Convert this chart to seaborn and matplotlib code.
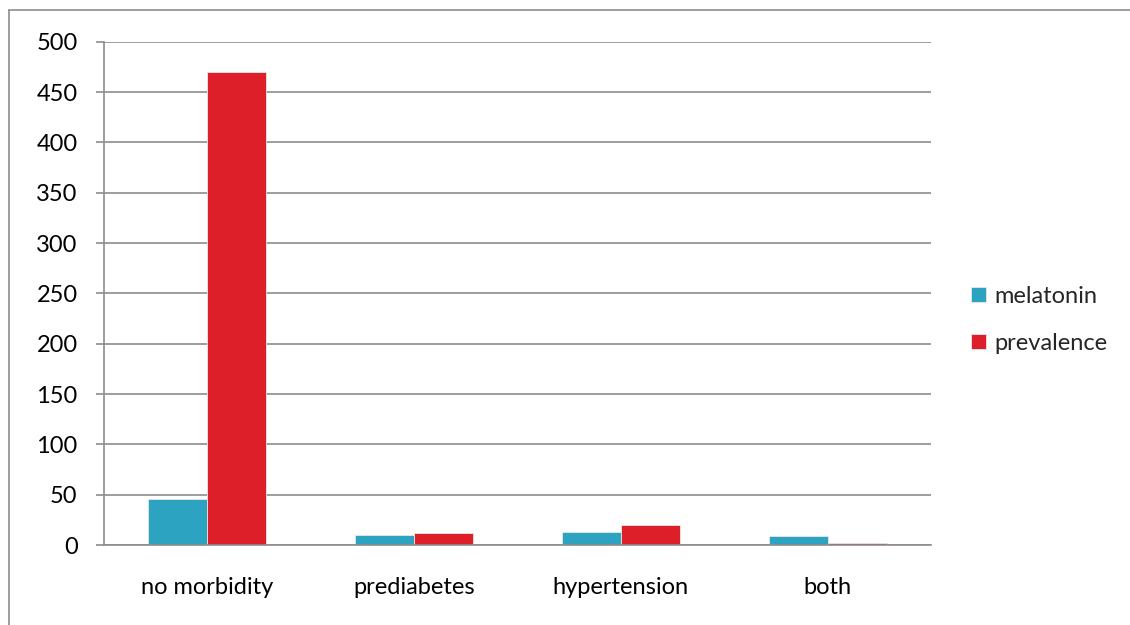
import numpy as np
import pandas as pd
import matplotlib
matplotlib.use("Agg")
import matplotlib.pyplot as plt
from matplotlib.lines import Line2D
import seaborn as sns

categories = ["no morbidity", "prediabetes", "hypertension", "both"]
melatonin = [46, 9.5, 12.5, 8.5]
prevalence = [470, 11.5, 19.5, 2]
series = ["melatonin", "prevalence"]
colors = ["#2CA3C1", "#DC1F28"]

df = pd.DataFrame({
    "category": categories * 2,
    "series": ["melatonin"] * 4 + ["prevalence"] * 4,
    "value": melatonin + prevalence,
})

sns.set_theme(style="white")
plt.rcParams["font.family"] = ["Lato", "DejaVu Sans"]

fig = plt.figure(figsize=(11.3, 6.25), dpi=100)
ax = fig.add_axes([0.092, 0.128, 0.732, 0.805])

sns.barplot(data=df, x="category", y="value", hue="series", order=categories,
            hue_order=series, palette=colors, width=0.57, gap=0,
            saturation=1, ax=ax, legend=True, linewidth=0.6,
            edgecolor="#e8e8e8")

ax.set_ylim(0, 500)
ax.set_xlim(-0.5, 3.5)
ax.set_yticks(np.arange(0, 501, 50))
ax.yaxis.grid(True, color="#8c8c8c", linewidth=1.2)
ax.set_axisbelow(True)
ax.set_xlabel("")
ax.set_ylabel("")

for s in ["top", "right"]:
    ax.spines[s].set_visible(False)
for s in ["left", "bottom"]:
    ax.spines[s].set_color("#8c8c8c")
    ax.spines[s].set_linewidth(1.2)

# category boundary ticks on the x axis
ax.set_xticks(np.arange(-0.5, 3.6, 1), minor=True)
ax.tick_params(axis="x", which="major", length=0, labelsize=17, pad=23,
               labelcolor="#000000")
ax.tick_params(axis="x", which="minor", length=6, width=1.2, color="#8c8c8c",
               direction="out")
ax.tick_params(axis="y", length=6, width=1.2, color="#8c8c8c", labelsize=17,
               pad=13, labelcolor="#000000", left=True)

handles, labels = ax.get_legend_handles_labels()
ax.legend(handles, labels, loc="center left", bbox_to_anchor=(0.849, 0.488),
          bbox_transform=fig.transFigure, frameon=False, fontsize=17,
          handlelength=0.63, handleheight=0.63, handletextpad=0.34,
          labelspacing=1.1, borderpad=0)

# chart area border (only top and left edges visible in the crop)
bx, by = 9 / 1130, 1 - 10 / 625
fig.add_artist(Line2D([bx, 1.0], [by, by], transform=fig.transFigure,
                      color="#8c8c8c", linewidth=1.2))
fig.add_artist(Line2D([bx, bx], [0.0, by], transform=fig.transFigure,
                      color="#8c8c8c", linewidth=1.2))

fig.savefig("out.png", dpi=100)
